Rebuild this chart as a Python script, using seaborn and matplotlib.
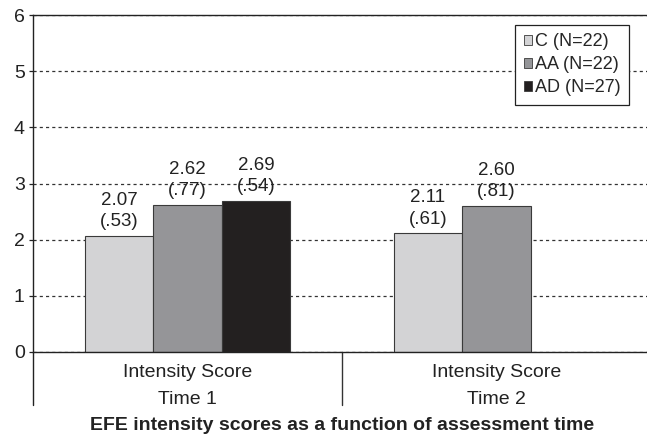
import pandas as pd
import numpy as np
import matplotlib.pyplot as plt
import seaborn as sns
from matplotlib.patches import Patch

####################################
# 데이터
####################################

times = ["Intensity Score\nTime 1", "Intensity Score\nTime 2"]
groups = ["C (N=22)", "AA (N=22)", "AD (N=27)"]

# Time 1 / Time 2 평균 (SD) - AD는 Time 2 없음
c_mean = [2.07, 2.11]
c_sd = [".53", ".61"]
aa_mean = [2.62, 2.60]
aa_sd = [".77", ".81"]
ad_mean = [2.69]
ad_sd = [".54"]

rows = []
for g, means in zip(groups, [c_mean, aa_mean, ad_mean]):
    for t, m in zip(times, means):
        rows.append({"time": t, "group": g, "score": m})
df = pd.DataFrame(rows)

colors = ["#d3d3d5", "#949598", "#231f20"]

####################################
# 시각화
####################################

sns.set_style("white")
plt.rcParams['font.family'] = ['Liberation Sans', 'DejaVu Sans']
plt.rcParams['font.size'] = 13

fig = plt.figure(figsize=(6.47, 4.37), dpi=100)
ax = fig.add_axes([33 / 647, 85 / 437, 618 / 647, 337 / 437])

ax.set_axisbelow(True)
ax.yaxis.grid(True, linestyle=(0, (2.5, 2.5)), color="#333333", linewidth=0.9)

sns.barplot(data=df, x="time", y="score", hue="group", order=times,
            hue_order=groups, palette=colors, width=0.665,
            edgecolor="#3a3a3a", linewidth=0.8, ax=ax, legend=False)

# 막대 위 라벨: 평균 (SD)
for cont, means, sds in zip(ax.containers, [c_mean, aa_mean, ad_mean],
                            [c_sd, aa_sd, ad_sd]):
    labels = [f"{m:.2f}\n({s})" for m, s in zip(means, sds)]
    ax.bar_label(cont, labels=labels, padding=4, fontsize=13.5,
                 color="#222222", linespacing=1.35)

ax.set_ylim(0, 6)
ax.set_xlim(-0.5, 1.5)
ax.set_yticks(range(0, 7))
ax.set_xlabel("")
ax.set_ylabel("")
ax.tick_params(axis="y", left=True, length=3, width=0.9, pad=3,
               labelsize=14, colors="#222222")
ax.tick_params(axis="x", bottom=False, length=0, pad=8.5, labelsize=14,
               colors="#222222")
for lab in ax.get_xticklabels():
    lab.set_linespacing(1.82)

for side in ["top", "left", "bottom"]:
    ax.spines[side].set_color("#222222")
    ax.spines[side].set_linewidth(1.0)
ax.spines["right"].set_visible(False)

# 축 아래 세로 구분선
ext = 53 / 337
ax.axvline(-0.5, ymin=-ext, ymax=0, color="#222222", linewidth=1.0, clip_on=False)
ax.axvline(0.5, ymin=-ext, ymax=0, color="#333333", linewidth=1.0, clip_on=False)

# 범례
handles = [Patch(facecolor=c, edgecolor="#3a3a3a", linewidth=0.6) for c in colors]
leg = ax.legend(handles, groups, loc="upper right",
                bbox_to_anchor=(596 / 618, 327 / 337), borderaxespad=0,
                frameon=True, fancybox=False, edgecolor="#222222", framealpha=1,
                handlelength=0.45, handleheight=0.45, handletextpad=0.2,
                labelspacing=0.34, borderpad=0.45, fontsize=13)
leg.get_frame().set_linewidth(0.9)

fig.text(342 / 647, 12 / 437, "EFE intensity scores as a function of assessment time",
         ha="center", va="center", fontsize=14, fontweight="bold", color="#222222")

plt.savefig("out.png", dpi=100)
